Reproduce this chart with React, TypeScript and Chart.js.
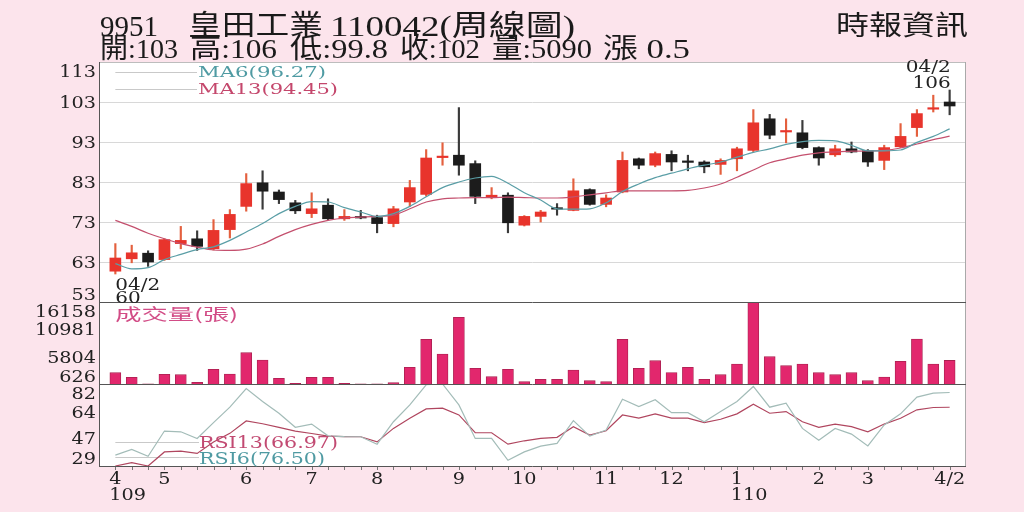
import React, { useEffect, useRef } from "react";
import { Chart, registerables } from "chart.js";

Chart.register(...registerables);

// ---------- data ----------
const monthTickIndex = [0, 3, 8, 12, 16, 21, 25, 30, 34, 38, 43, 46, 51];
const monthTickLabels = ["4", "5", "6", "7", "8", "9", "10", "11", "12", "1", "2", "3", "4/2"];
const yearTickIndex = [0, 38];
const yearTickLabels = ["109", "110"];

const openP = [60.7, 63.8, 65.2, 63.6, 67.6, 68.8, 66.3, 71.1, 76.9, 82.8, 80.5, 77.8, 75.1, 77.2, 73.8, 74.3, 74.1, 72.6, 78.0, 79.9, 89.1, 89.7, 87.6, 79.3, 79.7, 72.2, 74.4, 76.4, 75.9, 81.1, 77.4, 80.5, 88.8, 87.2, 89.9, 88.1, 88.0, 87.4, 88.8, 90.9, 98.8, 95.5, 95.3, 91.6, 89.8, 91.3, 90.8, 88.4, 91.8, 96.6, 101.2, 103];
const highP = [67.6, 67.2, 65.8, 68.8, 71.9, 70.8, 73.6, 76.1, 85.1, 85.8, 81.0, 78.4, 80.3, 78.8, 76.1, 75.9, 74.7, 76.9, 83.4, 91.1, 92.8, 101.6, 88.3, 81.6, 80.3, 74.6, 75.9, 77.6, 83.8, 81.3, 79.8, 90.5, 89.0, 90.5, 90.8, 89.7, 88.3, 88.8, 91.7, 101.1, 99.9, 98.8, 98.4, 91.8, 92.2, 93.0, 91.1, 92.2, 97.6, 101.1, 104.7, 106];
const lowP = [60.0, 62.8, 61.9, 63.4, 66.3, 65.9, 66.0, 69.0, 75.7, 76.2, 77.6, 75.1, 74.1, 73.6, 73.4, 73.8, 70.3, 71.8, 76.9, 79.5, 87.2, 84.7, 77.6, 78.8, 70.3, 72.0, 73.0, 74.7, 75.8, 77.2, 76.8, 80.3, 86.3, 86.8, 85.8, 85.8, 85.3, 84.9, 85.8, 90.6, 93.8, 92.8, 91.3, 87.2, 89.4, 90.3, 86.9, 86.1, 91.6, 94.4, 100.5, 99.8];
const closeP = [64.0, 65.3, 63.0, 68.6, 68.4, 66.9, 70.9, 74.9, 82.6, 80.7, 78.6, 75.8, 76.3, 73.8, 74.4, 74.0, 72.6, 76.3, 81.6, 89.0, 89.4, 87.2, 79.4, 79.7, 72.8, 74.4, 75.5, 76.2, 80.8, 77.4, 79.0, 88.4, 87.2, 90.1, 88.0, 87.9, 86.8, 88.4, 91.3, 97.8, 94.7, 95.8, 91.6, 89.0, 91.3, 90.5, 88.0, 91.6, 94.4, 100.1, 101.5, 102];
const volume = [2766, 1895, 650, 2463, 2387, 948, 3410, 2520, 6554, 5172, 1706, 760, 1895, 1895, 760, 650, 650, 880, 3789, 9092, 6308, 13259, 3600, 2008, 3410, 1062, 1516, 1516, 3278, 1251, 1062, 9092, 3600, 5040, 2800, 3789, 1516, 2387, 4414, 16158, 5797, 4092, 4414, 2766, 2387, 2766, 1251, 1952, 4919, 9149, 4414, 5090];
const ma6 = [62.6, 61.3, 61.6, 63.6, 64.9, 66.1, 66.8, 68.4, 70.5, 72.6, 75.1, 76.9, 78.1, 78.0, 76.6, 75.5, 74.4, 75.1, 76.9, 79.3, 81.6, 83.0, 84.0, 84.4, 82.7, 80.3, 78.5, 76.3, 76.2, 76.3, 77.8, 80.6, 82.5, 84.1, 85.2, 86.3, 87.2, 88.0, 89.2, 90.4, 91.3, 92.4, 93.1, 93.4, 93.3, 92.2, 90.8, 90.8, 91.0, 92.9, 94.4, 96.27];
const ma13 = [73.4, 71.9, 70.2, 68.8, 67.6, 66.7, 66.0, 65.9, 66.2, 67.5, 69.4, 71.1, 72.4, 73.4, 74.0, 74.2, 74.4, 74.7, 76.3, 78.0, 78.8, 79.0, 79.1, 79.1, 79.2, 79.1, 79.0, 79.0, 79.3, 79.8, 80.3, 80.8, 80.8, 80.8, 80.8, 80.9, 81.5, 82.5, 84.2, 86.0, 87.8, 88.8, 89.7, 90.3, 90.5, 90.7, 90.75, 90.9, 91.5, 92.5, 93.6, 94.45];
const rsi6 = [36.0, 39.7, 35.3, 51.6, 51.1, 46.8, 57.0, 67.0, 79.0, 70.7, 63.1, 54.0, 56.1, 48.5, 48.0, 47.9, 43.1, 57.6, 68.5, 81.5, 82.0, 68.5, 46.8, 46.8, 32.7, 38.1, 41.8, 43.6, 58.3, 48.3, 52.2, 72.2, 67.4, 71.8, 63.5, 63.5, 57.6, 64.2, 70.7, 80.4, 67.0, 69.6, 53.3, 45.7, 53.3, 49.6, 42.0, 55.5, 62.7, 73.5, 76.1, 76.5];
const rsi13 = [29.0, 31.2, 29.0, 38.1, 38.6, 37.1, 44.5, 50.1, 58.1, 56.3, 54.0, 51.5, 50.0, 48.3, 48.0, 47.9, 44.6, 53.3, 59.9, 65.9, 66.4, 62.0, 50.5, 50.5, 43.1, 45.3, 46.8, 47.5, 54.4, 49.0, 51.8, 62.0, 59.9, 62.7, 59.9, 59.9, 57.0, 59.2, 62.7, 69.0, 63.1, 64.2, 57.6, 54.0, 56.1, 54.4, 51.1, 56.1, 59.9, 65.3, 66.8, 66.97];

const priceTicks = [53, 63, 73, 83, 93, 103, 113];
const volumeTicks = [626, 5804, 10981, 16158];
const rsiTicks = [29, 47, 64, 82];

const headerCode = "9951";
const headerName = "皇田工業";
const headerTitle = "110042(周線圖)";
const headerStats = ["開:103", "高:106", "低:99.8", "收:102", "量:5090", "漲 0.5"];
const sourceText = "時報資訊";
const highMarkDate = "04/2";
const lowMarkDate = "04/2";
const ma6Legend = "MA6(96.27)";
const ma13Legend = "MA13(94.45)";
const rsi6Legend = "RSI6(76.50)";
const rsi13Legend = "RSI13(66.97)";
const volumeTitle = "成交量(張)";

// ---------- styling ----------
const UP = "#e8342c";
const UP_WICK = "#e4603e";
const DOWN = "#1c1c1c";
const DOWN_WICK = "#3a3a3a";
const SERIF = '"DejaVu Serif", serif';
const HEAD = '"Liberation Serif", "Noto Sans CJK TC", serif';
const CJK = '"Noto Sans CJK TC", sans-serif';

function txt(ctx: CanvasRenderingContext2D, s: string, x: number, y: number, font: string, color: string, align: CanvasTextAlign = "left", sx = 1) {
  ctx.save();
  ctx.font = font;
  ctx.fillStyle = color;
  ctx.textAlign = align;
  ctx.textBaseline = "alphabetic";
  ctx.translate(x, y);
  ctx.scale(sx, 1);
  ctx.fillText(s, 0, 0);
  ctx.restore();
}

function fit(ctx: CanvasRenderingContext2D, s: string, x0: number, x1: number, y: number, font: string, color: string) {
  ctx.save();
  ctx.font = font;
  const w = ctx.measureText(s).width || 1;
  ctx.fillStyle = color;
  ctx.textAlign = "left";
  ctx.textBaseline = "alphabetic";
  ctx.translate(x0, y);
  ctx.scale((x1 - x0) / w, 1);
  ctx.fillText(s, 0, 0);
  ctx.restore();
}

function hline(ctx: CanvasRenderingContext2D, x0: number, x1: number, y: number, color: string, w = 1) {
  ctx.strokeStyle = color;
  ctx.lineWidth = w;
  ctx.beginPath();
  ctx.moveTo(x0, y);
  ctx.lineTo(x1, y);
  ctx.stroke();
}
function vline(ctx: CanvasRenderingContext2D, x: number, y0: number, y1: number, color: string, w = 1) {
  ctx.strokeStyle = color;
  ctx.lineWidth = w;
  ctx.beginPath();
  ctx.moveTo(x, y0);
  ctx.lineTo(x, y1);
  ctx.stroke();
}

function axisLabels(ctx: CanvasRenderingContext2D, scale: any, ticks: number[], x: number) {
  for (const v of ticks) {
    const p = scale.getPixelForValue(v);
    const c = Math.min(Math.max(p, scale.top + 9), scale.bottom - 8);
    txt(ctx, String(v), x, c + 6, `16px ${SERIF}`, "#222", "right", 1.2);
  }
}

const decor = {
  id: "decor",
  beforeDraw(chart: any) {
    const { ctx, chartArea: a, scales } = chart;
    ctx.save();
    ctx.fillStyle = "#ffffff";
    ctx.fillRect(a.left, a.top, a.right - a.left, a.bottom - a.top);
    const yP = scales.yPrice;
    for (const v of priceTicks) {
      if (v <= yP.min || v >= yP.max) continue;
      hline(ctx, a.left, a.right, Math.round(yP.getPixelForValue(v)) + 0.5, "#d8d8d8");
    }
    const xs = scales.x;
    const lx0 = xs.getPixelForValue(1);
    hline(ctx, lx0, 197, Math.round(yP.top + 9.5) + 0.5, "#c9c9c9");
    hline(ctx, lx0, 197, Math.round(yP.top + 26.5) + 0.5, "#c9c9c9");
    const yR = scales.yRsi;
    hline(ctx, lx0, 199, Math.round(yR.top + 57.5) + 0.5, "#c9c9c9");
    hline(ctx, lx0, 199, Math.round(yR.top + 72.5) + 0.5, "#c9c9c9");
    ctx.restore();
  },
  afterDatasetsDraw(chart: any) {
    const { ctx, chartArea: a, scales } = chart;
    const yP = scales.yPrice;
    const yV = scales.yVol;
    const yR = scales.yRsi;
    const xs = scales.x;
    ctx.save();
    // frame
    hline(ctx, a.left, a.right, a.top + 0.5, "#bdbdbd");
    vline(ctx, Math.round(a.right) - 0.5, a.top, a.bottom, "#a9a9a9");
    hline(ctx, a.left, a.right, Math.round(yP.bottom) + 0.5, "#555");
    hline(ctx, a.left, a.right, Math.round(yV.bottom) + 0.5, "#555");
    hline(ctx, a.left, a.right, Math.round(a.bottom) + 0.5, "#555");
    vline(ctx, Math.round(a.left) + 0.5, a.top, a.bottom + 1, "#555");
    for (let i = 0; i < openP.length; i++) {
      const x = Math.round(xs.getPixelForValue(i + 1)) + 0.5;
      vline(ctx, x, a.bottom + 1, a.bottom + 4, "#777");
    }
    // y labels
    axisLabels(ctx, yP, priceTicks, 96);
    axisLabels(ctx, yV, volumeTicks, 96);
    axisLabels(ctx, yR, rsiTicks, 96);
    // x labels
    const xf = `16px ${SERIF}`;
    monthTickIndex.forEach((idx, k) => {
      const cx = xs.getPixelForValue(idx + 1);
      txt(ctx, monthTickLabels[k], cx, a.bottom + 17.5, xf, "#222", "center", 1.2);
      const yi = yearTickIndex.indexOf(idx);
      if (yi >= 0) {
        ctx.font = xf;
        const w = ctx.measureText(monthTickLabels[k]).width * 1.2;
        txt(ctx, yearTickLabels[yi], cx - w / 2, a.bottom + 34, xf, "#222", "left", 1.2);
      }
    });
    // high / low marks
    const hi = Math.max(...highP);
    const hiIdx = highP.indexOf(hi);
    const hx = xs.getPixelForValue(hiIdx + 1) + 1;
    txt(ctx, highMarkDate, hx, yP.top + 10, xf, "#222", "right", 1.25);
    txt(ctx, String(hi), hx, yP.top + 26, xf, "#222", "right", 1.25);
    const lo = Math.min(...lowP);
    const loIdx = lowP.indexOf(lo);
    const lx = xs.getPixelForValue(loIdx + 1);
    txt(ctx, lowMarkDate, lx, yP.bottom - 12, xf, "#222", "left", 1.25);
    txt(ctx, String(lo), lx, yP.bottom + 1, xf, "#222", "left", 1.25);
    // legends
    fit(ctx, ma6Legend, 198, 326, yP.top + 15, `15px ${SERIF}`, "#4f9ba3");
    fit(ctx, ma13Legend, 198, 338, yP.top + 31.5, `15px ${SERIF}`, "#c4476c");
    fit(ctx, volumeTitle, xs.getPixelForValue(1), 238, yV.top + 17.5, `16px ${CJK}`, "#d24c86");
    fit(ctx, rsi13Legend, 199, 338, yR.top + 63.5, `16px ${SERIF}`, "#c24a72");
    fit(ctx, rsi6Legend, 199, 325, yR.top + 79.5, `16px ${SERIF}`, "#4f9aa2");
    // header
    fit(ctx, headerCode, 100, 158, 36, `29px ${HEAD}`, "#1a1a1a");
    fit(ctx, headerName, 188, 323, 35, `28px ${CJK}`, "#1a1a1a");
    fit(ctx, headerTitle, 330, 575, 36, `29px ${HEAD}`, "#1a1a1a");
    const statSpans = [[100, 178], [190, 277], [290, 388], [400, 480], [492, 592], [603, 690]];
    headerStats.forEach((s, i) => fit(ctx, s, statSpans[i][0], statSpans[i][1], 58, `28px ${HEAD}`, "#1a1a1a"));
    fit(ctx, sourceText, 836, 968, 35, `27px ${CJK}`, "#1a1a1a");
    ctx.restore();
  },
};

const pad = (arr: any[]) => [null, ...arr, null];

export default function App() {
  const ref = useRef<HTMLCanvasElement>(null);
  useEffect(() => {
    const canvas = ref.current;
    if (!canvas) return;
    const labels = ["", ...openP.map((_, i) => `W${i + 1}`), " "];
    const isUp = openP.map((o, i) => closeP[i] >= o);
    const chart = new Chart(canvas, {
      type: "bar",
      data: {
        labels,
        datasets: [
          {
            type: "line",
            label: "MA6",
            data: pad(ma6),
            yAxisID: "yPrice",
            borderColor: "#5a9ea6",
            borderWidth: 1.2,
            pointRadius: 0,
            cubicInterpolationMode: "monotone",
            clip: 0,
            order: 1,
          },
          {
            type: "line",
            label: "MA13",
            data: pad(ma13),
            yAxisID: "yPrice",
            borderColor: "#c4506e",
            borderWidth: 1.2,
            pointRadius: 0,
            cubicInterpolationMode: "monotone",
            clip: 0,
            order: 1,
          },
          {
            type: "bar",
            label: "wick",
            data: pad(lowP.map((l, i) => [l, highP[i]])),
            yAxisID: "yPrice",
            backgroundColor: pad(isUp.map((u) => (u ? UP_WICK : DOWN_WICK))),
            barThickness: 1.5,
            grouped: false,
            clip: 0,
            order: 3,
          },
          {
            type: "bar",
            label: "body",
            data: pad(openP.map((o, i) => [o, closeP[i]])),
            yAxisID: "yPrice",
            backgroundColor: pad(isUp.map((u) => (u ? UP : DOWN))),
            barThickness: 11,
            minBarLength: 1.5,
            grouped: false,
            clip: 0,
            order: 2,
          },
          {
            type: "bar",
            label: "volume",
            data: pad(volume),
            yAxisID: "yVol",
            backgroundColor: "#e2276d",
            borderColor: "#a8204f",
            borderWidth: 0.8,
            barThickness: 11,
            grouped: false,
            clip: 0,
            order: 2,
          },
          {
            type: "line",
            label: "RSI6",
            data: pad(rsi6),
            yAxisID: "yRsi",
            borderColor: "#a3bcb8",
            borderWidth: 1.2,
            pointRadius: 0,
            tension: 0,
            clip: 0,
            order: 1,
          },
          {
            type: "line",
            label: "RSI13",
            data: pad(rsi13),
            yAxisID: "yRsi",
            borderColor: "#b0465f",
            borderWidth: 1.2,
            pointRadius: 0,
            tension: 0,
            clip: 0,
            order: 1,
          },
        ] as any,
      },
      options: {
        responsive: false,
        animation: false,
        events: [],
        layout: { padding: { left: 99, right: 58, top: 62, bottom: 46 } },
        plugins: { legend: { display: false }, tooltip: { enabled: false }, title: { display: false } },
        scales: {
          x: { type: "category", offset: false, display: false },
          yRsi: { type: "linear", position: "left", stack: "panels", stackWeight: 82, min: 29, max: 82, display: false },
          yVol: { type: "linear", position: "left", stack: "panels", stackWeight: 82, min: 626, max: 16158, display: false },
          yPrice: { type: "linear", position: "left", stack: "panels", stackWeight: 240, min: 53, max: 113, display: false },
        } as any,
      },
      plugins: [decor],
    });
    return () => chart.destroy();
  }, []);
  return (
    <div style={{ position: "absolute", left: 0, top: 0, width: 1024, height: 512, background: "#fce4ec", overflow: "hidden" }}>
      <canvas ref={ref} width={1024} height={512} style={{ display: "block", width: 1024, height: 512 }} />
    </div>
  );
}
